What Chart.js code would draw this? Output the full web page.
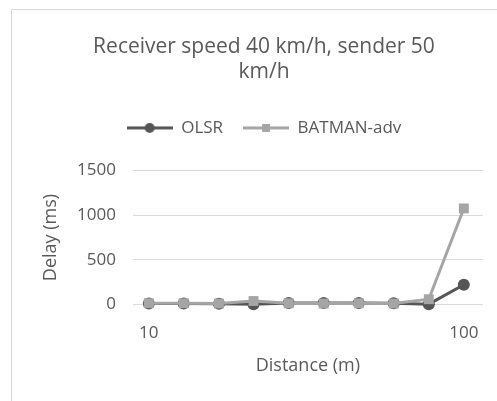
<!DOCTYPE html>
<html>
<head>
<meta charset="utf-8">
<script src="https://cdn.jsdelivr.net/npm/chart.js@4.4.1/dist/chart.umd.min.js"></script>
<style>
  html, body { margin: 0; padding: 0; background: #fff; }
  #marco { position: absolute; left: 11px; top: 9px; width: 486px; height: 392px;
           border-left: 1px solid #d9d9d9; border-top: 1px solid #d9d9d9; box-sizing: border-box; }
  #grafica { display: block; }
</style>
</head>
<body>
<div id="marco"><canvas id="grafica" width="485" height="391"></canvas></div>
<script>
// datos
const distancias = [10, 12.9, 16.7, 21.5, 27.8, 35.9, 46.4, 59.9, 77.4, 100];
const retardo_olsr = [12, 12, 10, 5, 18, 18, 18, 15, 5, 222];
const retardo_batman = [15, 15, 12, 40, 15, 12, 15, 12, 60, 1075];
const ticks_x = [10, 100];
const ticks_y = [0, 500, 1000, 1500];

const gris_oscuro = '#555555';
const gris_claro = '#a5a5a5';
const texto = '#595959';
const fuente = "'Open Sans', 'Noto Sans', sans-serif";

// icono de leyenda: linea con marcador
function icono(color, forma)
{
	const c = document.createElement('canvas');
	c.width = 46; c.height = 14;
	const ctx = c.getContext('2d');
	ctx.strokeStyle = color;
	ctx.lineWidth = 3;
	ctx.beginPath(); ctx.moveTo(0, 7); ctx.lineTo(46, 7); ctx.stroke();
	ctx.fillStyle = color;
	if (forma === 'circle') {
		ctx.beginPath(); ctx.arc(23, 7, 5, 0, Math.PI * 2); ctx.fill();
	} else {
		ctx.fillRect(19, 3, 8, 8);
	}
	return c;
}

function puntos(valores)
{
	return distancias.map((d, i) => ({x: d, y: valores[i]}));
}

// espacio extra debajo de la leyenda
const espacio_leyenda = {
	id: 'espacio_leyenda',
	afterInit(chart) {
		const leyenda = chart.legend;
		const fitOriginal = leyenda.fit;
		leyenda.fit = function () {
			fitOriginal.call(this);
			this.height += 24;
		};
	}
};

new Chart(document.getElementById('grafica'), {
	type: 'line',
	data: {
		datasets: [{
			label: 'OLSR',
			data: puntos(retardo_olsr),
			borderColor: gris_oscuro,
			backgroundColor: gris_oscuro,
			borderWidth: 3,
			pointStyle: 'circle',
			pointRadius: 6,
			pointBorderWidth: 0,
			order: 1,
			clip: false
		}, {
			label: 'BATMAN-adv',
			data: puntos(retardo_batman),
			borderColor: gris_claro,
			backgroundColor: gris_claro,
			borderWidth: 3,
			pointStyle: 'rect',
			pointRadius: 7,
			pointBorderWidth: 0,
			order: 0,
			clip: false
		}]
	},
	plugins: [espacio_leyenda],
	options: {
		responsive: false,
		animation: false,
		layout: { padding: { left: 30, right: 11, top: 24, bottom: 26 } },
		plugins: {
			title: {
				display: true,
				text: ['Receiver speed 40 km/h, sender 50', 'km/h'],
				color: texto,
				font: { family: fuente, size: 21, weight: 'normal', lineHeight: 1.2 },
				padding: { top: 0, bottom: 15 }
			},
			legend: {
				display: true,
				labels: {
					color: texto,
					font: { family: fuente, size: 17 },
					usePointStyle: true,
					pointStyleWidth: 46,
					boxHeight: 14,
					padding: 20,
					sort: (a, b) => a.datasetIndex - b.datasetIndex,
					generateLabels: (chart) => [
						{ text: 'OLSR', pointStyle: icono(gris_oscuro, 'circle'), fontColor: texto, datasetIndex: 0, lineWidth: 0, strokeStyle: 'transparent', fillStyle: gris_oscuro },
						{ text: 'BATMAN-adv', pointStyle: icono(gris_claro, 'rect'), fontColor: texto, datasetIndex: 1, lineWidth: 0, strokeStyle: 'transparent', fillStyle: gris_claro }
					]
				}
			},
			tooltip: { enabled: false }
		},
		scales: {
			x: {
				type: 'logarithmic',
				min: 8.9,
				max: 115,
				afterBuildTicks: (eje) => { eje.ticks = ticks_x.map(v => ({value: v})); },
				ticks: {
					color: texto,
					font: { family: fuente, size: 17 },
					callback: (v) => String(v),
					maxRotation: 0,
					autoSkip: false,
					padding: 18
				},
				grid: { display: false, drawTicks: false },
				border: { display: false },
				title: {
					display: true,
					text: 'Distance (m)',
					color: texto,
					font: { family: fuente, size: 18, lineHeight: 1 },
					padding: { top: -4, bottom: 0 }
				}
			},
			y: {
				min: 0,
				max: 1500,
				afterBuildTicks: (eje) => { eje.ticks = ticks_y.map(v => ({value: v})); },
				ticks: {
					color: texto,
					font: { family: fuente, size: 17 },
					callback: (v) => String(v),
					padding: 17
				},
				grid: { color: '#d9d9d9', lineWidth: 1, drawTicks: false },
				border: { display: false },
				title: {
					display: true,
					text: 'Delay (ms)',
					color: texto,
					font: { family: fuente, size: 18, lineHeight: 1 },
					padding: { top: 0, bottom: 0 }
				}
			}
		}
	}
});
</script>
</body>
</html>
